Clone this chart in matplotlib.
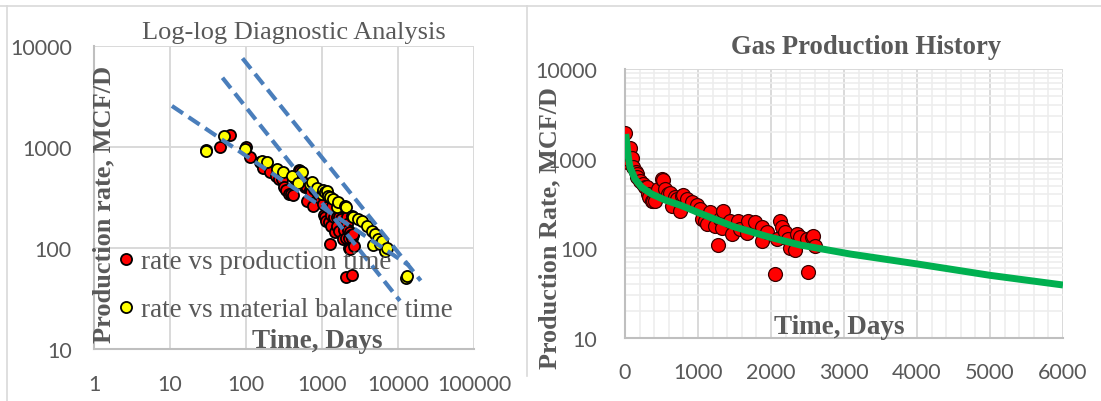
import numpy as np
import matplotlib
matplotlib.use("Agg")
import matplotlib.pyplot as plt
from matplotlib.lines import Line2D
from matplotlib.ticker import LogLocator, MultipleLocator, NullFormatter, FixedLocator

# production history: days on production and gas rate (MCF/D)
days = np.array([0, 30, 46, 62, 100, 114, 151, 160, 169, 205, 251, 274, 297, 320, 333,
                 365, 388, 411, 456, 502, 516, 548, 594, 616, 640, 685, 708, 753, 776,
                 799, 853, 913, 982, 1027, 1050, 1096, 1119, 1164, 1233, 1278, 1301,
                 1324, 1347, 1438, 1470, 1553, 1575, 1667, 1689, 1781, 1873, 1880, 1941,
                 2055, 2078, 2123, 2146, 2192, 2238, 2260, 2329, 2352, 2397, 2489, 2511,
                 2557, 2580, 2603])
rate = np.array([1930, 925, 990, 1306, 1010, 802, 705, 675, 620, 569, 522, 479, 480, 403,
                 371, 340, 340, 335, 459, 593, 582, 459, 403, 414, 294, 371, 355, 263,
                 384, 394, 355, 326, 304, 275, 212, 203, 187, 253, 179, 109, 212, 167,
                 263, 203, 144, 203, 164, 148, 203, 195, 172, 122, 151, 52, 127, 203,
                 172, 151, 127, 100, 97, 144, 133, 127, 54, 133, 138, 105])

# material balance time (days) and rate
mbt = np.array([30, 51, 97, 161, 191, 258, 310, 399, 488, 541, 695, 731, 851, 991, 1041,
                1094, 1175, 1210, 1274, 1410, 1560, 1641, 2009, 2070, 2458, 2582, 3006,
                3330, 3873, 4508, 4732, 4977, 5510, 5794, 6109, 6745, 7100, 12870, 13000])
mbt_rate = np.array([906, 1294, 955, 731, 714, 610, 561, 513, 441, 569, 431, 454, 392, 343,
                     377, 358, 369, 330, 318, 306, 253, 283, 262, 253, 209, 201, 194, 186,
                     166, 148, 107, 138, 123, 110, 118, 94, 100, 50, 53])

# diagnostic slope lines (end points)
diag_lines = [([10.6, 14000], [2550, 67]),
              ([49, 10600], [4850, 30]),
              ([90, 19900], [7550, 47.5])]

# decline curve read along the fitted trend
fit_days = [10, 46, 68, 137, 228, 365, 548, 776, 1027, 1484, 1941, 2397, 3082, 4000, 5000, 6000]
fit_rate = [1884, 1035, 802, 593, 479, 403, 346, 299, 246, 175, 136, 109, 86.5, 67, 50, 39]

GRAY = "#595959"
SERIF = "Liberation Serif"
SANS = "Lato"

fig = plt.figure(figsize=(11.01, 4.02), dpi=100)
W, H = 1101, 402

def box(x0, y0, x1, y1):
    return [x0 / W, 1 - y1 / H, (x1 - x0) / W, (y1 - y0) / H]

def style(ax):
    for s in ["top", "right"]:
        ax.spines[s].set_visible(False)
    for s in ["left", "bottom"]:
        ax.spines[s].set_color("#BFBFBF")
        ax.spines[s].set_linewidth(1.5)
    ax.tick_params(which="both", length=0, labelcolor=GRAY, labelsize=15.5)
    for lab in ax.get_xticklabels() + ax.get_yticklabels():
        lab.set_family(SANS)
    ax.set_axisbelow(True)

# ---- log-log diagnostic plot ----
ax1 = fig.add_axes(box(94, 47, 474, 350))
ax1.set_xscale("log")
ax1.set_yscale("log")
ax1.set_xlim(1, 100000)
ax1.set_ylim(10, 10000)
ax1.xaxis.set_major_locator(FixedLocator([1, 10, 100, 1000, 10000, 100000]))
ax1.yaxis.set_major_locator(FixedLocator([10, 100, 1000, 10000]))
ax1.xaxis.set_minor_locator(LogLocator(base=10, subs=np.arange(2, 10)))
ax1.yaxis.set_minor_locator(FixedLocator([]))
ax1.xaxis.set_minor_formatter(NullFormatter())
ax1.set_xticklabels(["1", "10", "100", "1000", "10000", "100000"])
ax1.set_yticklabels(["10", "100", "1000", "10000"])
ax1.grid(which="major", color="#D9D9D9", lw=1.4)
ax1.grid(which="minor", axis="x", color="#EDEDED", lw=1.2)
ax1.tick_params(axis="x", pad=18)
ax1.tick_params(axis="y", pad=16)
style(ax1)

pos = days > 0
ax1.scatter(days[pos], rate[pos], s=64, c="#FF0000", edgecolors="black", linewidths=1.3,
            zorder=3, label="rate vs production time")
ax1.scatter(mbt, mbt_rate, s=64, c="#FFFF00", edgecolors="black", linewidths=1.3,
            zorder=4, label="rate vs material balance time")
for xs, ys in diag_lines:
    ax1.plot(xs, ys, color="#4A7EBB", lw=3, ls=(0, (3.2, 1.6)), zorder=5)

handles = [Line2D([], [], ls="", marker="o", ms=8, mfc="#FF0000", mec="black", mew=1.3),
           Line2D([], [], ls="", marker="o", ms=8, mfc="#FFFF00", mec="black", mew=1.3)]
leg = fig.legend(handles, ["rate vs production time", "rate vs material balance time"],
                 loc="upper left", bbox_to_anchor=(115 / W, 1 - 250 / H), frameon=False,
                 prop={"family": SERIF, "size": 19.5}, labelcolor=GRAY, handletextpad=0.15,
                 handlelength=0.8, labelspacing=0.85, borderpad=0, borderaxespad=0)
leg.set_zorder(6)

fig.text(294 / W, 1 - 33 / H, "Log-log Diagnostic Analysis", family=SERIF, size=19,
         color=GRAY, ha="center", va="center")
fig.text(104 / W, 1 - 204 / H, "Production rate, MCF/D", family=SERIF, weight="bold",
         size=19, color=GRAY, rotation=90, ha="center", va="center", zorder=7)
fig.text(317 / W, 1 - 342 / H, "Time, Days", family=SERIF, weight="bold", size=19.5,
         color=GRAY, ha="center", va="center", zorder=7)

# ---- production history ----
ax2 = fig.add_axes(box(625, 70, 1063, 339))
ax2.set_yscale("log")
ax2.set_xlim(0, 6000)
ax2.set_ylim(10, 10000)
ax2.xaxis.set_major_locator(MultipleLocator(1000))
ax2.xaxis.set_minor_locator(MultipleLocator(200))
ax2.yaxis.set_major_locator(FixedLocator([10, 100, 1000, 10000]))
ax2.yaxis.set_minor_locator(LogLocator(base=10, subs=np.arange(2, 10)))
ax2.yaxis.set_minor_formatter(NullFormatter())
ax2.set_yticklabels(["10", "100", "1000", "10000"])
ax2.grid(which="major", color="#D9D9D9", lw=1.4)
ax2.grid(which="minor", color="#EDEDED", lw=1.2)
ax2.tick_params(axis="x", pad=17)
ax2.tick_params(axis="y", pad=20)
style(ax2)

ax2.scatter(days, rate, s=100, c="#FF0000", edgecolors="#3A0000", linewidths=0.9, zorder=3)
ax2.plot(fit_days, fit_rate, color="#00B050", lw=5, solid_capstyle="butt", zorder=4)

fig.text(866 / W, 1 - 47 / H, "Gas Production History", family=SERIF, weight="bold",
         size=19.2, color=GRAY, ha="center", va="center")
fig.text(550 / W, 1 - 228 / H, "Production Rate, MCF/D", family=SERIF, weight="bold",
         size=18.8, color=GRAY, rotation=90, ha="center", va="center", zorder=7)
fig.text(839 / W, 1 - 328 / H, "Time, Days", family=SERIF, weight="bold", size=19.5,
         color=GRAY, ha="center", va="center", zorder=7)

# panel frames
frame = dict(color="#D9D9D9", lw=1.2, transform=fig.transFigure, figure=fig)
fig.lines += [Line2D([0, 1], [1 - 7 / H] * 2, **frame),
              Line2D([7 / W] * 2, [0, 1 - 7 / H], **frame),
              Line2D([527 / W] * 2, [1 - 377 / H, 1 - 7 / H], **frame)]

fig.savefig("out.png", dpi=100)
